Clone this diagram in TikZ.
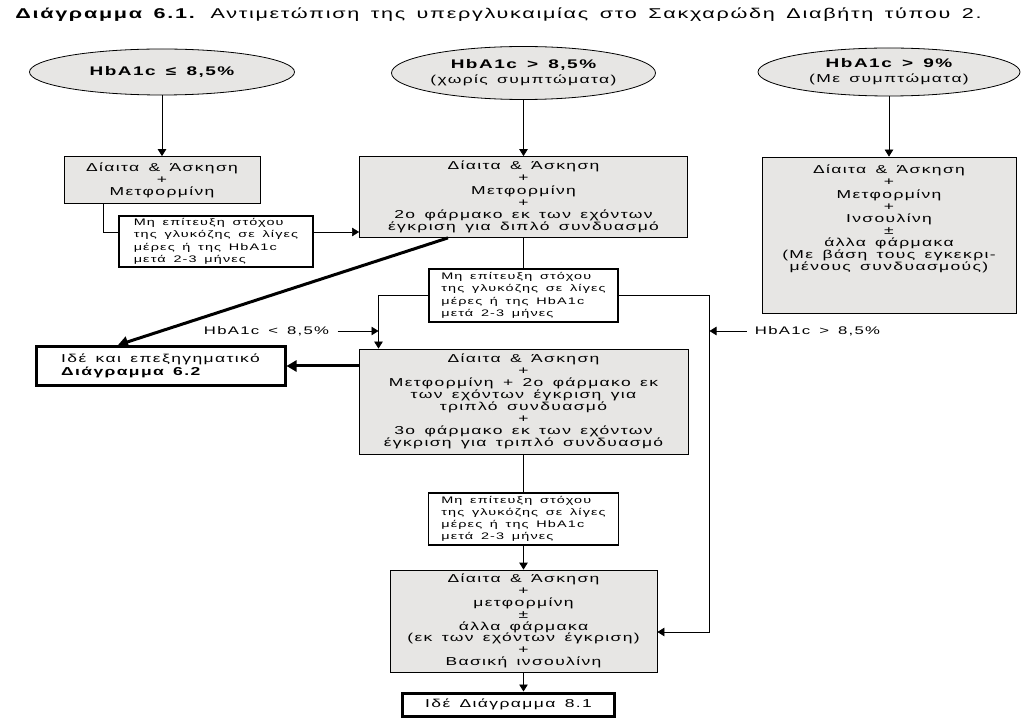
\documentclass[tikz,border=0pt]{standalone}
\usepackage{fontspec}
\setmainfont{Liberation Sans}[FakeStretch=1.52,LetterSpace=12,WordSpace=1.5]
\usetikzlibrary{shapes.geometric,arrows.meta,backgrounds,positioning}
\definecolor{boxfill}{RGB}{231,230,228}
\tikzstyle{cond} = [draw, ellipse, fill=boxfill, inner sep=0pt, align=center, line width=0.8pt]
\tikzstyle{block} = [draw, rectangle, fill=boxfill, align=center, inner sep=0pt, line width=0.8pt, font=\fontsize{11.5}{12.1}\selectfont]
\tikzstyle{note} = [draw, rectangle, fill=white, align=left, inner sep=0pt, line width=1.2pt, font=\fontsize{9.5}{12.2}\selectfont]
\tikzstyle{seealso} = [draw, rectangle, fill=white, align=left, inner sep=0pt, line width=3pt, font=\fontsize{11.5}{13}\selectfont]
\tikzstyle{level} = [inner sep=0pt, font=\fontsize{11}{13}\selectfont]
\tikzstyle{input} = [coordinate]
\tikzstyle{thickarrow} = [-{Triangle[length=10pt,width=11pt]}, line width=3pt]

\begin{document}
\begin{tikzpicture}[x=1pt, y=-1pt, node distance=100pt, >={Triangle[length=7pt,width=8.5pt]}, line width=0.8pt]
\useasboundingbox (0,0) rectangle (1021,719);

\node [anchor=west, inner sep=0pt, font=\fontsize{14.2}{16}\selectfont] (title) at (15,15) {\textbf{Διάγραμμα 6.1.} Αντιμετώπιση της υπεργλυκαιμίας στο Σακχαρώδη Διαβήτη τύπου 2.};

% starting conditions
\node [cond, minimum width=265pt, minimum height=46pt, font=\bfseries\fontsize{12.5}{15}\selectfont] (hbaLow) at (162,72) {HbA1c ≤ 8,5\%};
\node [cond, minimum width=264pt, minimum height=53pt, font=\fontsize{11.5}{15}\selectfont] (hbaNoSym) at (523.5,73) {{\bfseries\fontsize{12.5}{15}\selectfont HbA1c > 8,5\%}\\(χωρίς συμπτώματα)};
\node [cond, minimum width=262pt, minimum height=48pt, font=\fontsize{11.5}{15}\selectfont] (hbaSym) at (889,72) {{\bfseries\fontsize{12.5}{15}\selectfont HbA1c > 9\%}\\(Με συμπτώματα)};

% first treatment
\node [block, below of=hbaLow, node distance=108pt, minimum width=196pt, minimum height=47pt] (diet) {Δίαιτα \& Άσκηση\\+\\Μετφορμίνη};
\node [block, below of=hbaNoSym, node distance=124pt, minimum width=328pt, minimum height=81pt] (dual) {Δίαιτα \& Άσκηση\\+\\Μετφορμίνη\\+\\2ο φάρμακο εκ των εχόντων\\έγκριση για διπλό συνδυασμό};
\node [block, below of=hbaSym, node distance=163pt, minimum width=254pt, minimum height=156pt] (insulin) {Δίαιτα \& Άσκηση\\+\\Μετφορμίνη\\+\\Ινσουλίνη\\±\\άλλα φάρμακα\\(Με βάση τους εγκεκρι-\\μένους συνδυασμούς)\\[22pt]};

\node [note, minimum width=194pt, minimum height=51pt] (fail1) at (216,241.5) {Μη επίτευξη στόχου\\της γλυκόζης σε λίγες\\μέρες ή της HbA1c\\μετά 2-3 μήνες};
\node [note, below of=dual, node distance=98.5pt, minimum width=189pt, minimum height=53pt] (fail2) {Μη επίτευξη στόχου\\της γλυκόζης σε λίγες\\μέρες ή της HbA1c\\μετά 2-3 μήνες};

\node [block, below of=fail2, node distance=106pt, minimum width=329pt, minimum height=105pt] (triple) {Δίαιτα \& Άσκηση\\+\\Μετφορμίνη + 2ο φάρμακο εκ\\των εχόντων έγκριση για\\τριπλό συνδυασμό\\+\\3ο φάρμακο εκ των εχόντων\\έγκριση για τριπλό συνδυασμό};
\node [seealso, left of=triple, node distance=363pt, yshift=35.5pt, minimum width=249pt, minimum height=39pt] (see62) {Ιδέ και επεξηγηματικό\\\textbf{Διάγραμμα 6.2}};

\node [note, below of=triple, node distance=117.5pt, minimum width=190pt, minimum height=52pt] (fail3) {Μη επίτευξη στόχου\\της γλυκόζης σε λίγες\\μέρες ή της HbA1c\\μετά 2-3 μήνες};
\node [block, below of=fail3, node distance=102pt, minimum width=267pt, minimum height=102pt, font=\fontsize{11.5}{11.8}\selectfont] (basal) {Δίαιτα \& Άσκηση\\+\\μετφορμίνη\\±\\άλλα φάρμακα\\(εκ των εχόντων έγκριση)\\+\\Βασική ινσουλίνη};
\node [seealso, align=center, below of=basal, node distance=83.5pt, xshift=-15pt, minimum width=212pt, minimum height=23pt] (see81) {Ιδέ Διάγραμμα 8.1};

% turning points
\node [input, below of=diet, xshift=-59pt, node distance=52pt] (dietTurn) {};
\node [input, left of=fail2, node distance=145pt] (failLeft) {};
\node [input, right of=fail2, node distance=186pt] (failRight) {};
\node [input, right of=basal, node distance=186pt, yshift=-11pt] (basalIn) {};

\node [level, left of=failLeft, node distance=112pt, yshift=-35.5pt] (below85) {HbA1c < 8,5\%};
\node [level, right of=failRight, node distance=108pt, yshift=-35.5pt] (above85) {HbA1c > 8,5\%};

\draw [->] (hbaLow) -- (diet);
\draw [->] (hbaNoSym) -- (dual);
\draw [->] (hbaSym) -- (insulin);

\begin{scope}[on background layer]
\draw [->] (diet.south -| dietTurn) |- (dietTurn -| dual.west);
\end{scope}

\draw (dual) -- (fail2);
\draw [->] (fail2.west) -- (failLeft) -- (failLeft |- triple.north);
\draw [->] (fail2.east) -- (failRight) -- (basalIn) -- (basalIn -| basal.east);
\draw [->] ([xshift=8pt]below85.east) -- (below85.east -| failLeft);
\draw [->] ([xshift=-8pt]above85.west) -- (above85.west -| failRight);

\draw [thickarrow] ([xshift=-75.5pt]dual.south) -- ([xshift=-42.5pt]see62.north);
\draw [thickarrow] (triple.west |- see62.east) -- (see62.east);

\draw (triple) -- (fail3);
\draw [->] (fail3) -- (basal);
\draw [->] (basal.south) -- (basal.south |- see81.north);

\end{tikzpicture}
\end{document}
